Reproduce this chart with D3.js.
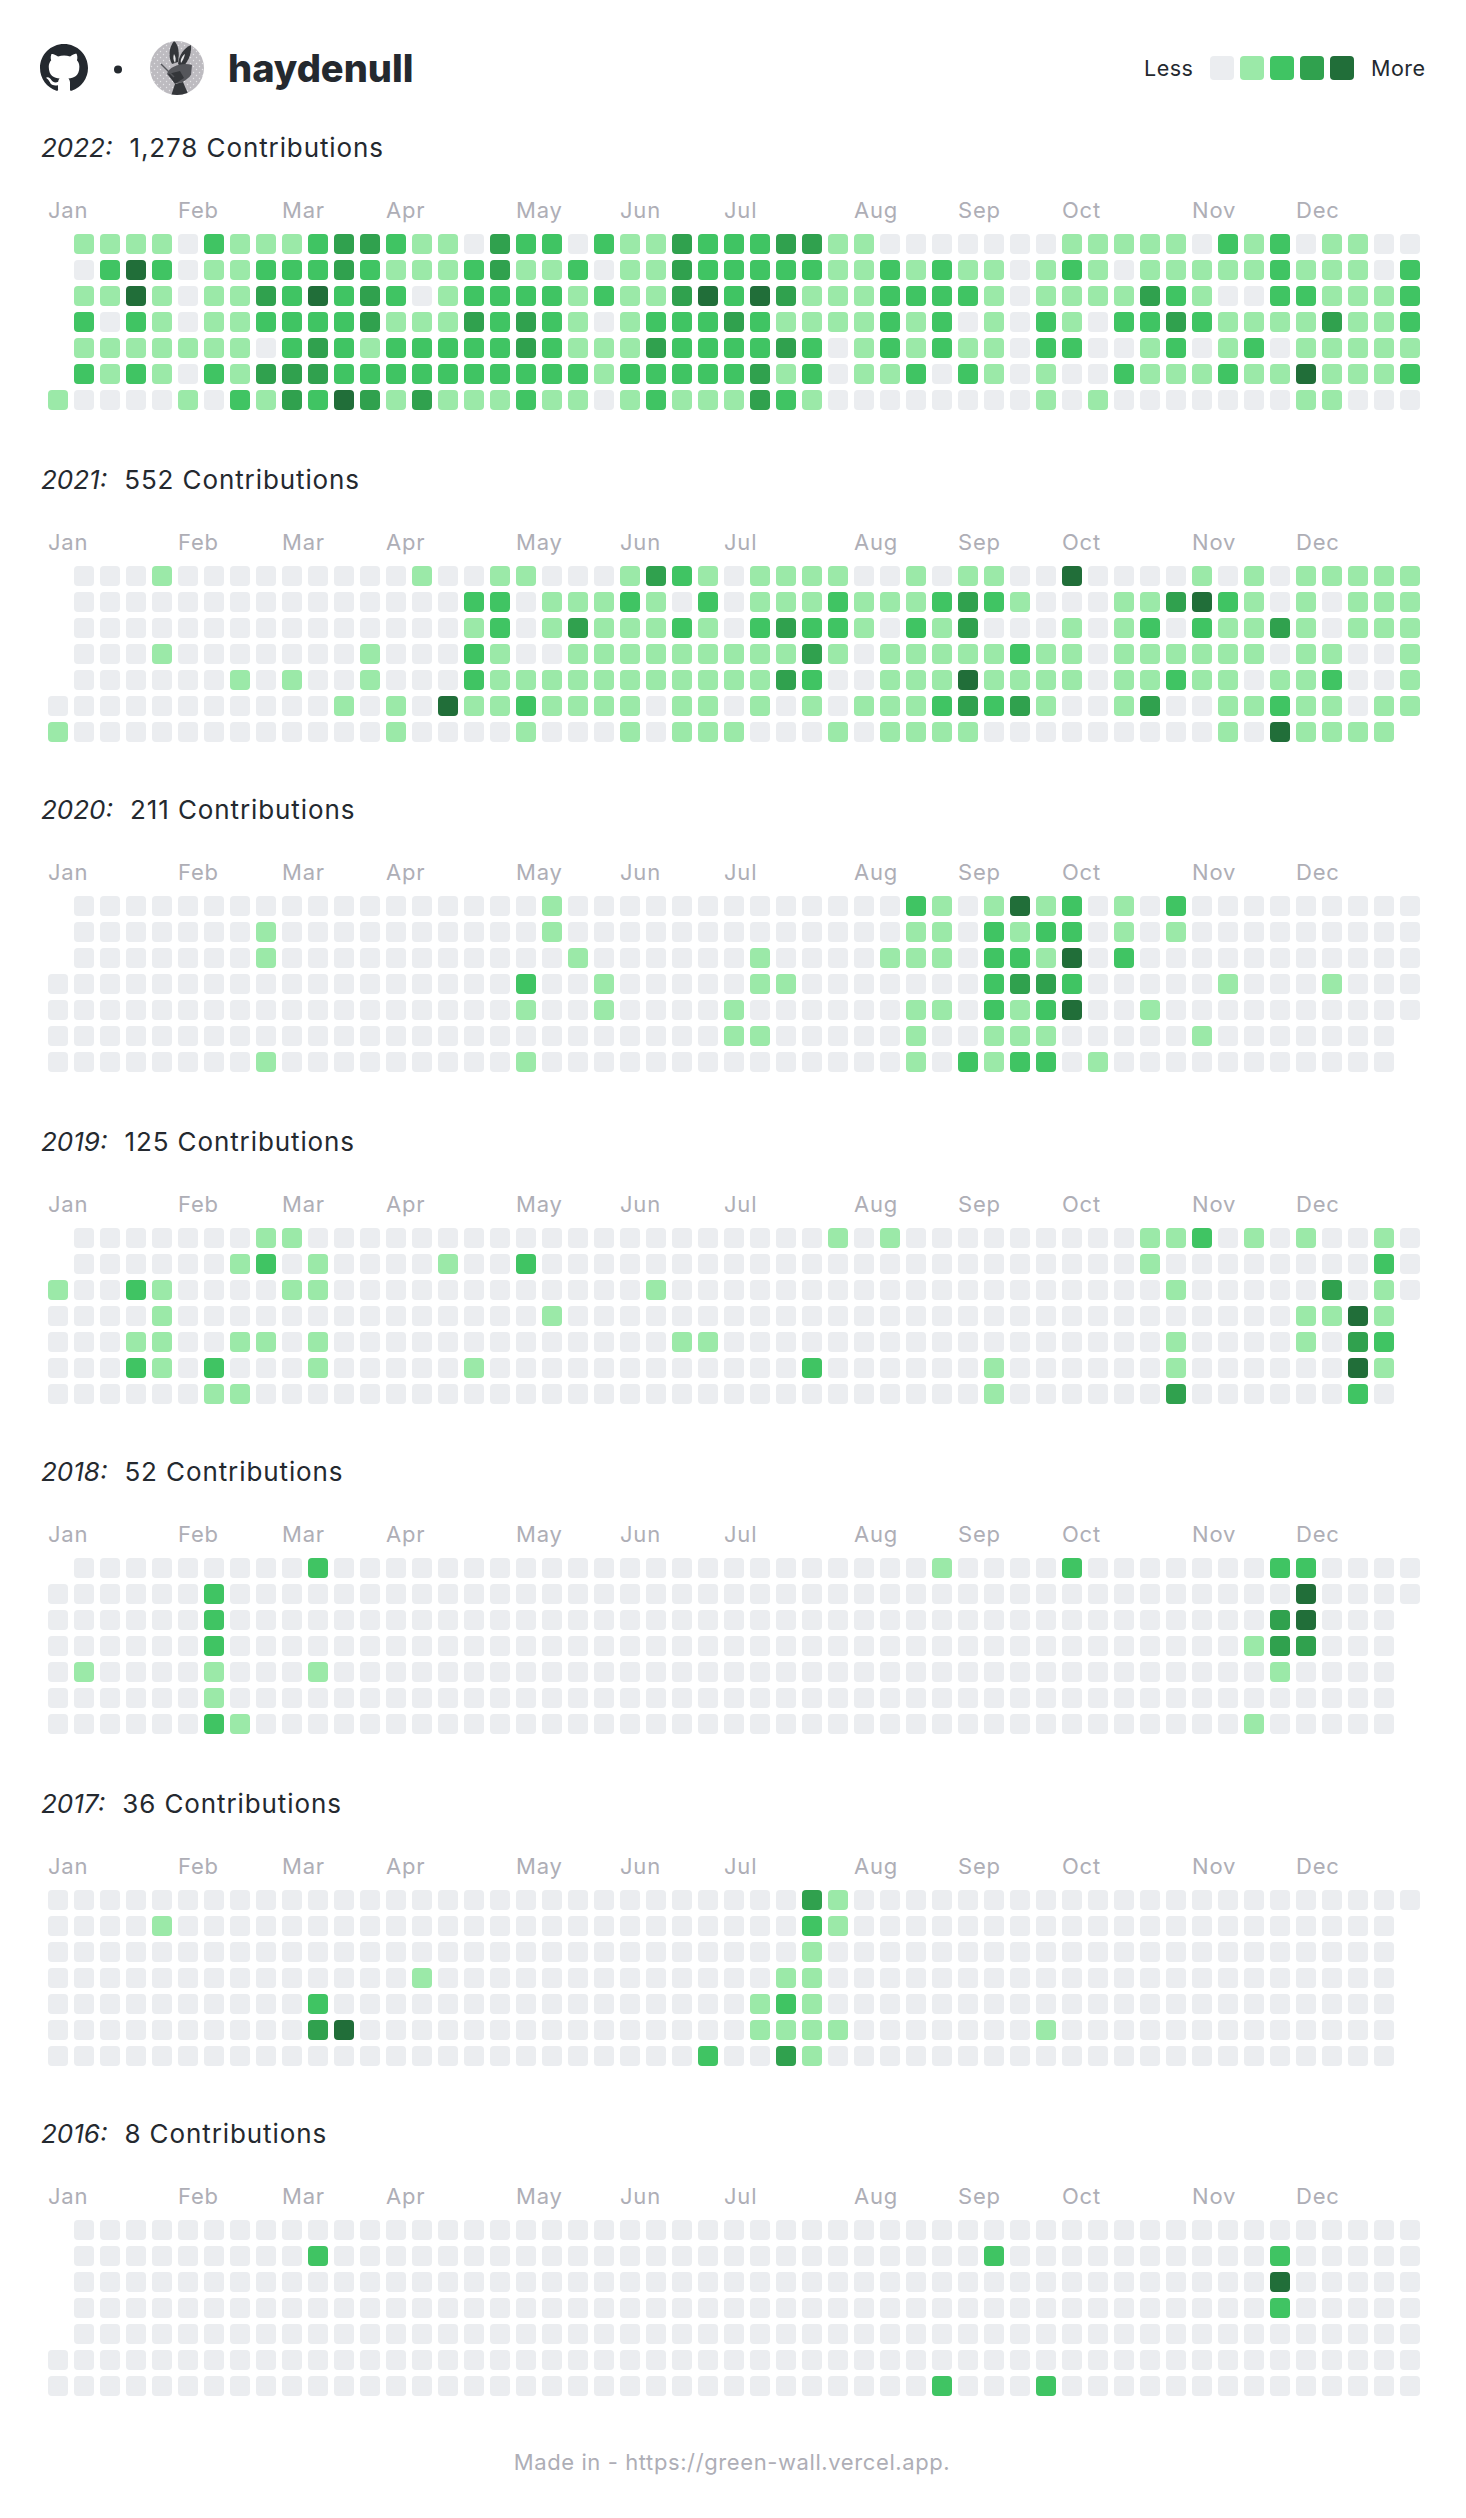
<!DOCTYPE html>
<html>
<head>
<meta charset="utf-8">
<script src="https://cdnjs.cloudflare.com/ajax/libs/d3/7.8.5/d3.min.js"></script>
<style>
  html, body { margin: 0; background: #fff; }
  text { font-family: Inter, "Noto Sans", sans-serif; }
</style>
</head>
<body>
<svg id="wall"></svg>
<script>
// contribution levels, one string per weekday row, "." means the day is not in that year
var cells2022 = [
  '. 11110 21112 33211 03220 21132 22331 10000 00011 11102 12011 00',
  '. 02420 11222 32111 23112 01132 22221 12121 10121 01111 12111 02',
  '. 11410 11324 23201 22221 21134 24311 12222 10111 13210 02211 12',
  '. 20210 11222 23111 32321 01222 32111 12120 10210 22321 11131 12',
  '. 11111 11023 21222 22321 11322 22320 12121 10220 01201 20111 11',
  '. 21210 21333 22222 22222 12222 23120 11202 10100 21112 11411 12',
  '1 00001 02132 43131 11211 01211 13210 00000 00101 00000 00110 00'
];
var cells2021 = [
  '. 00010 00000 00010 01100 01321 01111 00101 10040 00010 10111 11',
  '. 00000 00000 00000 22011 12102 01112 11123 21000 11342 10101 11',
  '. 00000 00000 00000 12013 11121 02322 10213 00010 12021 13101 11',
  '. 00010 00000 01000 21001 11111 11131 01111 12110 11111 10110 01',
  '. 00000 01010 01000 21111 11111 11320 01114 11110 11211 01120 01',
  '0 00000 00000 10104 11211 11011 01010 11123 23100 13001 12110 11',
  '1 00000 00000 00100 00100 01011 10001 01111 00000 00001 04111 1.'
];
var cells2020 = [
  '. 00000 00000 00000 00010 00000 00000 00210 14120 10200 00000 00',
  '. 00000 00100 00000 00010 00000 00000 00110 21220 10100 00000 00',
  '. 00000 00100 00000 00001 00000 01000 01110 22140 20000 00000 00',
  '0 00000 00000 00000 00200 10000 01100 00000 23320 00001 00010 00',
  '0 00000 00000 00000 00100 10000 10000 00110 21240 01000 00000 00',
  '0 00000 00000 00000 00000 00000 11000 00100 11100 00010 00000 0.',
  '0 00000 00100 00000 00100 00000 00000 00102 12201 00000 00000 0.'
];
var cells2019 = [
  '. 00000 00110 00000 00000 00000 00001 01000 00000 01120 10100 10',
  '. 00000 01201 00001 00200 00000 00000 00000 00000 01000 00000 20',
  '1 00210 00011 00000 00000 00100 00000 00000 00000 00100 00030 10',
  '0 00010 00000 00000 00010 00000 00000 00000 00000 00000 00114 1.',
  '0 00110 01101 00000 00000 00011 00000 00000 00000 00100 00103 2.',
  '0 00210 20001 00000 10000 00000 00020 00000 10000 00100 00004 1.',
  '0 00000 11000 00000 00000 00000 00000 00000 10000 00300 00002 0.'
];
var cells2018 = [
  '. 00000 00002 00000 00000 00000 00000 00010 00020 00000 02200 00',
  '0 00000 20000 00000 00000 00000 00000 00000 00000 00000 00400 00',
  '0 00000 20000 00000 00000 00000 00000 00000 00000 00000 03400 0.',
  '0 00000 20000 00000 00000 00000 00000 00000 00000 00000 13300 0.',
  '0 10000 10001 00000 00000 00000 00000 00000 00000 00000 01000 0.',
  '0 00000 10000 00000 00000 00000 00000 00000 00000 00000 00000 0.',
  '0 00000 21000 00000 00000 00000 00000 00000 00000 00000 10000 0.'
];
var cells2017 = [
  '0 00000 00000 00000 00000 00000 00031 00000 00000 00000 00000 00',
  '0 00010 00000 00000 00000 00000 00021 00000 00000 00000 00000 0.',
  '0 00000 00000 00000 00000 00000 00010 00000 00000 00000 00000 0.',
  '0 00000 00000 00010 00000 00000 00110 00000 00000 00000 00000 0.',
  '0 00000 00002 00000 00000 00000 01210 00000 00000 00000 00000 0.',
  '0 00000 00003 40000 00000 00000 01111 00000 00100 00000 00000 0.',
  '0 00000 00000 00000 00000 00002 00310 00000 00000 00000 00000 0.'
];
var cells2016 = [
  '. 00000 00000 00000 00000 00000 00000 00000 00000 00000 00000 00',
  '. 00000 00002 00000 00000 00000 00000 00000 20000 00000 02000 00',
  '. 00000 00000 00000 00000 00000 00000 00000 00000 00000 04000 00',
  '. 00000 00000 00000 00000 00000 00000 00000 00000 00000 02000 00',
  '. 00000 00000 00000 00000 00000 00000 00000 00000 00000 00000 00',
  '0 00000 00000 00000 00000 00000 00000 00000 00000 00000 00000 00',
  '0 00000 00000 00000 00000 00000 00000 00020 00200 00000 00000 00'
];

var years = ['2022', '2021', '2020', '2019', '2018', '2017', '2016'];
var totals = ['1,278', '552', '211', '125', '52', '36', '8'];
var grids = [cells2022, cells2021, cells2020, cells2019, cells2018, cells2017, cells2016];

var months = ['Jan', 'Feb', 'Mar', 'Apr', 'May', 'Jun', 'Jul', 'Aug', 'Sep', 'Oct', 'Nov', 'Dec'];
var monthWeeks = [0, 5, 9, 13, 18, 22, 26, 31, 35, 39, 44, 48];

var levels = [0, 1, 2, 3, 4];
var levelColors = ['#ebedf0', '#9be9a8', '#40c463', '#30a14e', '#216e39'];

var width = 1466;
var height = 2518;
var yearTops = [234, 566, 896, 1228, 1558, 1890, 2220];
var ink = '#24292f';
var muted = '#aeaeb6';

var svg = d3.select('#wall').attr('width', width).attr('height', height).style('display', 'block');

var x = d3.scaleBand().domain(d3.range(53)).range([48, 1420]).paddingInner(6 / 26);
var y = d3.scaleBand().domain(d3.range(7)).range([0, 176]).paddingInner(6 / 26);
var color = d3.scaleOrdinal().domain(levels).range(levelColors);

function parseGrid(rows) {
  var out = [];
  rows.forEach(function(row, r) {
    row.replace(/ /g, '').split('').forEach(function(ch, w) {
      if (ch !== '.') out.push({ week: w, day: r, level: +ch });
    });
  });
  return out;
}

function drawYear(i) {
  var top = yearTops[i];
  var g = svg.append('g').attr('transform', 'translate(0,' + top + ')');

  var title = g.append('text')
    .attr('x', 41)
    .attr('y', -77)
    .attr('fill', ink)
    .style('font-size', '26px');
  title.append('tspan').style('font-style', 'italic').text(years[i] + ':');
  title.append('tspan').attr('dx', 17).style('letter-spacing', '0.9px').text(totals[i] + ' Contributions');

  g.selectAll('text.month')
    .data(months)
    .enter().append('text')
    .attr('class', 'month')
    .attr('x', function(d, m) { return x(monthWeeks[m]); })
    .attr('y', -16)
    .attr('fill', muted)
    .style('font-size', '22px')
    .style('letter-spacing', '0.8px')
    .text(function(d) { return d; });

  g.selectAll('rect')
    .data(parseGrid(grids[i]))
    .enter().append('rect')
    .attr('x', function(d) { return x(d.week); })
    .attr('y', function(d) { return y(d.day); })
    .attr('width', x.bandwidth())
    .attr('height', y.bandwidth())
    .attr('rx', 4)
    .attr('fill', function(d) { return color(d.level); });
}

years.forEach(function(year, i) { drawYear(i); });

// header
var header = svg.append('g');

header.append('path')
  .attr('transform', 'translate(40,44) scale(3)')
  .attr('fill', ink)
  .attr('d', 'M8 0C3.58 0 0 3.58 0 8c0 3.54 2.29 6.53 5.47 7.59.4.07.55-.17.55-.38 0-.19-.01-.82-.01-1.49-2.01.37-2.53-.49-2.69-.94-.09-.23-.48-.94-.82-1.13-.28-.15-.68-.52-.01-.53.63-.01 1.08.58 1.23.82.72 1.21 1.87.87 2.33.66.07-.52.28-.87.51-1.07-1.78-.2-3.64-.89-3.64-3.95 0-.87.31-1.59.82-2.15-.08-.2-.36-1.02.08-2.12 0 0 .67-.21 2.2.82.64-.18 1.32-.27 2-.27.68 0 1.36.09 2 .27 1.53-1.04 2.2-.82 2.2-.82.44 1.1.16 1.92.08 2.12.51.56.82 1.27.82 2.15 0 3.07-1.87 3.75-3.65 3.95.29.25.54.73.54 1.48 0 1.07-.01 1.93-.01 2.2 0 .21.15.46.55.38A8.013 8.013 0 0016 8c0-4.42-3.58-8-8-8z');

header.append('circle').attr('cx', 118).attr('cy', 69.5).attr('r', 4).attr('fill', ink);

// avatar: dotted grey disc with the dark rabbit figure
var defs = svg.append('defs');
defs.append('clipPath').attr('id', 'avatarClip').append('circle').attr('r', 27);
var dots = defs.append('pattern').attr('id', 'avatarDots')
  .attr('patternUnits', 'userSpaceOnUse').attr('width', 6).attr('height', 6);
dots.append('circle').attr('cx', 1.5).attr('cy', 1.5).attr('r', 0.7).attr('fill', '#e4e3e6');
dots.append('circle').attr('cx', 4.5).attr('cy', 4.5).attr('r', 0.7).attr('fill', '#e4e3e6');

var avatar = header.append('g').attr('transform', 'translate(177,68)');
avatar.append('circle').attr('r', 27).attr('fill', '#bdbbc0');
avatar.append('circle').attr('r', 27).attr('fill', 'url(#avatarDots)');
var figure = avatar.append('g').attr('clip-path', 'url(#avatarClip)');
figure.append('path').attr('fill', '#34363a')
  .attr('d', 'M-3 -27 C1 -24 3 -16 1 -6 L-5 -4 C-9 -11 -8 -21 -3 -27 Z');
figure.append('path').attr('fill', '#34363a')
  .attr('d', 'M14 -23 C15 -13 10 -5 5 0 L1 -4 C2 -13 7 -20 14 -23 Z');
figure.append('path').attr('fill', '#e6e6e8')
  .attr('d', 'M-3 -14 C-1 -11 -1 -8 -2 -5 C-4 -8 -4 -11 -3 -14 Z');
figure.append('path').attr('fill', '#e6e6e8')
  .attr('d', 'M8 -14 C7 -10 6 -8 4 -5 C3 -8 5 -12 8 -14 Z');
figure.append('path').attr('fill', '#55565b')
  .attr('d', 'M-10 6 C-8 -2 6 -6 15 -3 L14 7 C9 13 2 17 -3 14 Z');
figure.append('path').attr('fill', '#34363a')
  .attr('d', 'M-9 6 L3 3 L7 10 L-2 16 Z');
figure.append('path').attr('fill', '#34363a')
  .attr('d', 'M-2 16 L6 14 L12 28 L-6 28 Z');
figure.append('path').attr('stroke', '#55565b').attr('stroke-width', 1.4).attr('fill', 'none')
  .attr('d', 'M-16 -4 L-3 9');

header.append('text')
  .attr('x', 228)
  .attr('y', 82)
  .attr('fill', ink)
  .style('font-size', '38px')
  .style('font-weight', 800)
  .text('haydenull');

// legend
var legendX = d3.scalePoint().domain(levels).range([1210, 1330]);

header.selectAll('rect.legend')
  .data(levels)
  .enter().append('rect')
  .attr('class', 'legend')
  .attr('x', function(d) { return legendX(d); })
  .attr('y', 56)
  .attr('width', 24)
  .attr('height', 24)
  .attr('rx', 4)
  .attr('fill', function(d) { return color(d); });

header.append('text').attr('x', 1144).attr('y', 76).attr('fill', ink)
  .style('font-size', '21.5px').style('letter-spacing', '0.5px').text('Less');
header.append('text').attr('x', 1371).attr('y', 76).attr('fill', ink)
  .style('font-size', '21.5px').style('letter-spacing', '0.5px').text('More');

svg.append('text')
  .attr('x', 732)
  .attr('y', 2470)
  .attr('text-anchor', 'middle')
  .attr('fill', muted)
  .style('font-size', '22px')
  .style('letter-spacing', '0.6px')
  .text('Made in - https://green-wall.vercel.app.');
</script>
</body>
</html>
